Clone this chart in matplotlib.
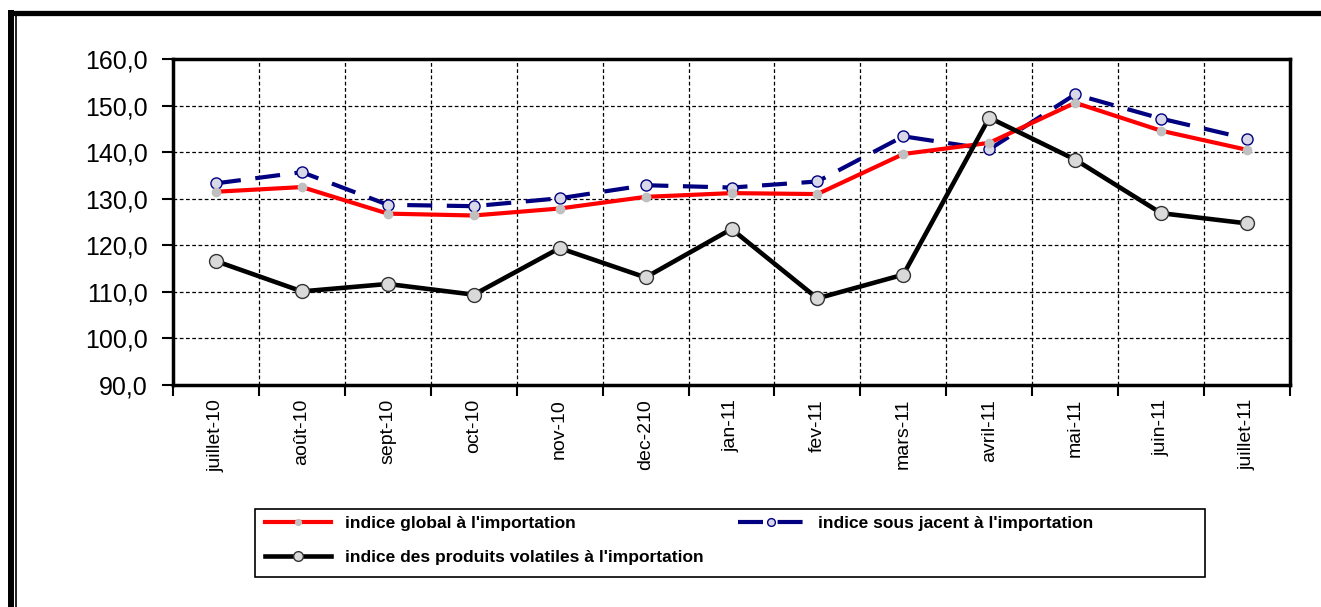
import matplotlib.pyplot as plt
from matplotlib.lines import Line2D
from matplotlib.patches import Rectangle
import numpy as np

plt.rcParams['font.family'] = ['Liberation Sans', 'DejaVu Sans']

# data
mois = ["juillet-10", "août-10", "sept-10", "oct-10", "nov-10", "dec-210",
        "jan-11", "fev-11", "mars-11", "avril-11", "mai-11", "juin-11", "juillet-11"]
global_import = [131.5, 132.5, 126.8, 126.4, 127.9, 130.4, 131.2, 131.0,
                 139.6, 142.0, 150.6, 144.6, 140.5]
sous_jacent = [133.3, 135.7, 128.7, 128.4, 130.1, 132.9, 132.4, 133.7,
               143.4, 140.6, 152.4, 147.2, 142.9]
volatiles = [116.6, 110.1, 111.7, 109.4, 119.4, 113.1, 123.5, 108.6,
             113.7, 147.4, 138.4, 126.9, 124.7]
yticks = [90, 100, 110, 120, 130, 140, 150, 160]

fig = plt.figure(figsize=(13.21, 6.07), dpi=100)
ax = fig.add_axes([0.131, 0.3657, 0.8455, 0.5371])

x = np.arange(len(mois))

l_sj, = ax.plot(x, sous_jacent, color="#000080", lw=3, dashes=(6, 3.5),
                marker="o", ms=8, mfc="#d8d8e8", mec="#000080", mew=1,
                label="indice sous jacent à l'importation", zorder=3)
l_gl, = ax.plot(x, global_import, color="#ff0000", lw=3,
                marker="o", ms=6, mfc="#c0c0c0", mec="#c0c0c0",
                label="indice global à l'importation", zorder=4)
l_vo, = ax.plot(x, volatiles, color="black", lw=3.3,
                marker="o", ms=10, mfc="#d9d9d9", mec="#333333", mew=1,
                label="indice des produits volatiles à l'importation", zorder=5)

ax.set_xlim(-0.5, len(mois) - 0.5)
ax.set_ylim(90, 160)

# ticks between categories (Excel style), labels at centres
ax.set_xticks(np.arange(-0.5, len(mois), 1.0))
ax.set_xticklabels([])
ax.set_xticks(x, minor=True)
ax.set_xticklabels(mois, minor=True, rotation=90, fontsize=14)
ax.tick_params(axis="x", which="major", direction="out", length=8, width=1.5)
ax.tick_params(axis="x", which="minor", length=0, pad=10)

ax.set_yticks(yticks)
ax.set_yticklabels([("%.1f" % v).replace(".", ",") for v in yticks], fontsize=18)
ax.tick_params(axis="y", direction="out", length=8, width=1.5, pad=10)

ax.grid(True, which="major", color="black", linestyle=(0, (3, 2)), lw=0.9)
for s in ax.spines.values():
    s.set_linewidth(2.5)
    s.set_color("black")

# legend box drawn separately, entries laid out in two rows
fig.add_artist(Rectangle((255 / 1321, 1 - 577 / 607), 950 / 1321, 68 / 607,
                         transform=fig.transFigure, fill=False,
                         edgecolor="black", lw=1.2))
leg = fig.legend(handles=[l_gl, l_vo, l_sj], ncol=2, loc="upper left",
                 bbox_to_anchor=(265 / 1321, 1 - 516 / 607),
                 bbox_transform=fig.transFigure, frameon=False,
                 prop={"weight": "bold", "size": 12.5}, markerscale=0.7,
                 handlelength=3.8, handletextpad=0.8, columnspacing=2.0,
                 borderpad=0, borderaxespad=0, labelspacing=1.1)

# outer frame of the picture
fig.add_artist(Line2D([8 / 1321, 1], [1 - 12.5 / 607] * 2, transform=fig.transFigure,
                      color="black", lw=3.8, solid_capstyle="butt"))
fig.add_artist(Line2D([11 / 1321] * 2, [0, 1 - 10 / 607], transform=fig.transFigure,
                      color="black", lw=4.3, solid_capstyle="butt"))
fig.add_artist(Line2D([16 / 1321] * 2, [0, 1 - 15 / 607], transform=fig.transFigure,
                      color="black", lw=1.2, solid_capstyle="butt"))

fig.savefig("out.png", dpi=100)
